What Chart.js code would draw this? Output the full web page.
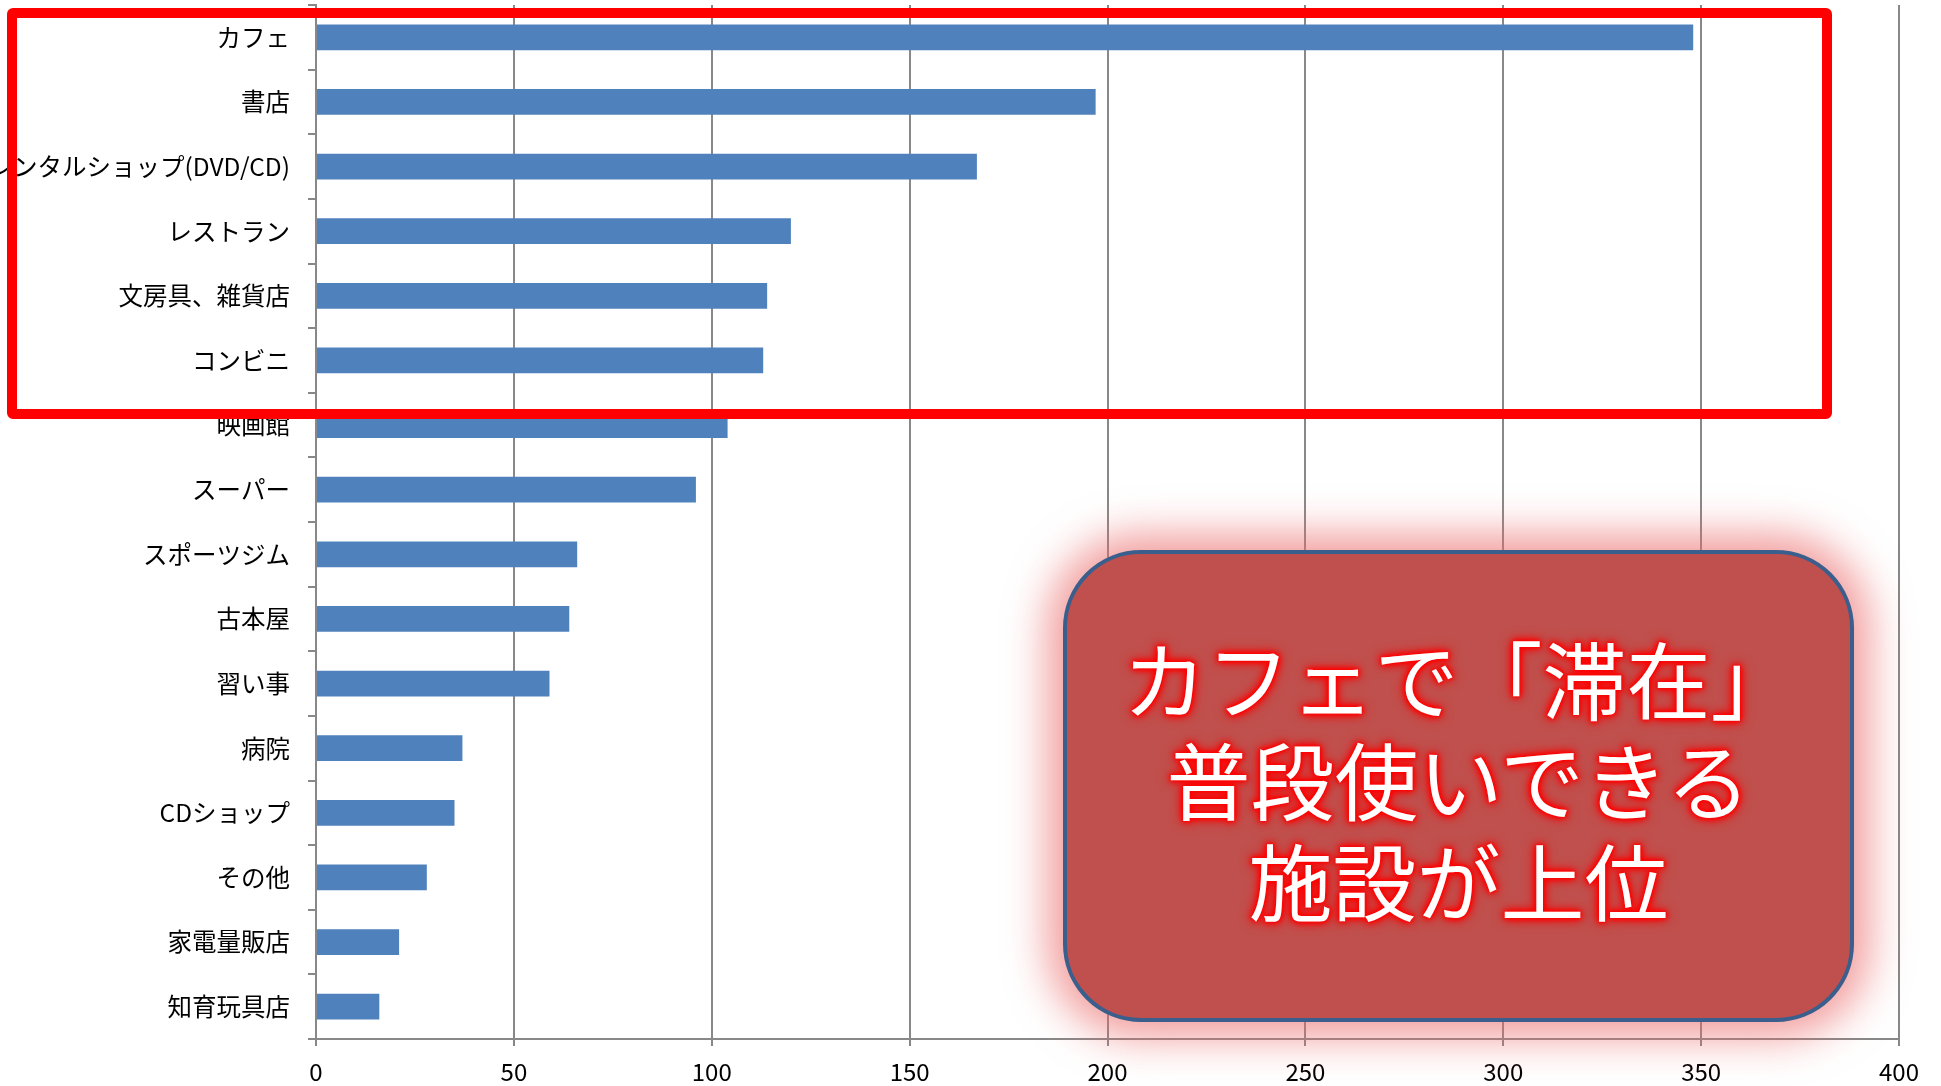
<!DOCTYPE html>
<html>
<head>
<meta charset="utf-8">
<script src="https://cdn.jsdelivr.net/npm/chart.js@4.4.1/dist/chart.umd.min.js"></script>
<style>
	body { margin: 0; background: #fff; }
	#wrap { position: relative; width: 1941px; height: 1086px; }
	#redFrame {
		position: absolute; left: 7px; top: 8px; width: 1825px; height: 411px;
		box-sizing: border-box; border: 10px solid #ff0000; border-radius: 6px;
	}
	#callout {
		position: absolute; left: 1063px; top: 550px; width: 791px; height: 472px;
		box-sizing: border-box; border: 4px solid #3b5f8d; border-radius: 78px;
		background: #c0504d;
		box-shadow: 0 0 42px 16px rgba(235, 105, 105, 0.65);
		display: flex; align-items: center; justify-content: center;
		padding-bottom: 18px;
		font-family: 'Noto Sans CJK JP', sans-serif; font-size: 84px; line-height: 101px;
		color: #fff; text-align: center;
		text-shadow: 0 0 2px #f00, 0 0 4px #f00, 0 0 6px #f00, 0 0 9px #f00, 0 0 13px #f00;
	}
</style>
</head>
<body>
<div id="wrap">
	<canvas id="barChart"></canvas>
	<div id="redFrame"></div>
	<div id="callout"><div>カフェで「滞在」<br>普段使いできる<br>施設が上位</div></div>
</div>
<script>
	var places = ["カフェ", "書店", "レンタルショップ(DVD/CD)", "レストラン", "文房具、雑貨店", "コンビニ",
		"映画館", "スーパー", "スポーツジム", "古本屋", "習い事", "病院", "CDショップ", "その他", "家電量販店", "知育玩具店"];
	var counts = [348, 197, 167, 120, 114, 113, 104, 96, 66, 64, 59, 37, 35, 28, 21, 16];
	var xTicks = [0, 50, 100, 150, 200, 250, 300, 350, 400];

	var barBlue = '#4f81bd',
		axisGrey = '#888888',
		fontFamily = "'Noto Sans CJK JP', 'Noto Sans', sans-serif";

	var barData = {
		labels: places,
		datasets: [{
			label: '件数',
			backgroundColor: barBlue,
			borderWidth: 0,
			categoryPercentage: 1,
			barPercentage: 0.4,
			data: counts
		}]
	};

	var ctx = document.getElementById("barChart").getContext("2d");
	var myChart = new Chart(ctx, {
		type: 'bar',
		data: barData,
		options: {
			indexAxis: 'y',
			responsive: true,
			maintainAspectRatio: false,
			animation: false,
			layout: {
				padding: { top: 5, right: 42, left: 0, bottom: 0 }
			},
			plugins: {
				legend: { display: false },
				tooltip: { enabled: false }
			},
			scales: {
				x: {
					min: xTicks[0],
					max: xTicks[xTicks.length - 1],
					afterBuildTicks: function (scale) {
						scale.ticks = xTicks.map(function (v) { return { value: v }; });
					},
					afterFit: function (scale) {
						scale.height = 47;
						scale.paddingLeft = 0;
						scale.paddingRight = 0;
					},
					grid: { color: axisGrey, lineWidth: 2, tickLength: 7 },
					border: { color: axisGrey, width: 2 },
					ticks: { color: '#000', padding: 11, font: { family: fontFamily, size: 24 } }
				},
				y: {
					afterFit: function (scale) {
						scale.width = 316;
						scale.paddingTop = 0;
						scale.paddingBottom = 0;
					},
					grid: { drawOnChartArea: false, offset: true, color: axisGrey, lineWidth: 2, tickLength: 8 },
					border: { color: axisGrey, width: 2 },
					ticks: { color: '#000', autoSkip: false, padding: 18, font: { family: fontFamily, size: 24.5 } }
				}
			}
		}
	});
</script>
</body>
</html>
